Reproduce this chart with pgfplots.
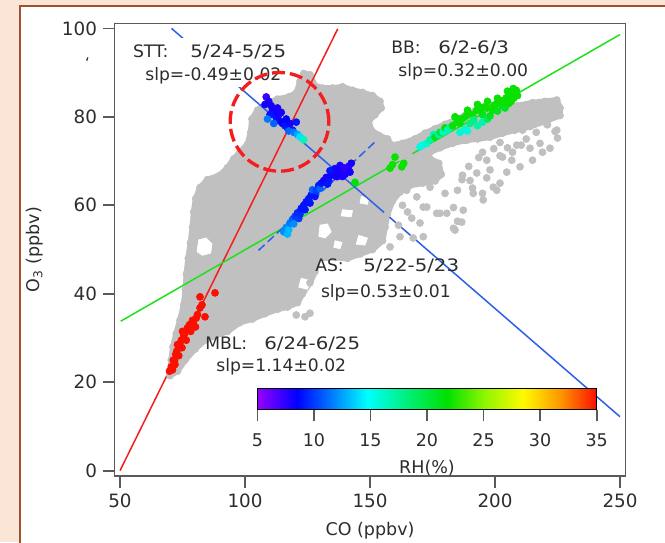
\documentclass[border=0pt]{standalone}
\usepackage{fontspec}
\setmainfont{DejaVu Sans}
\usepackage{pgfplots}
\pgfplotsset{compat=1.18}
\usepackage{pgfplotstable}
\usetikzlibrary{calc}

\definecolor{peach}{RGB}{251,229,214}
\definecolor{brownb}{RGB}{160,82,45}
\definecolor{cloud}{RGB}{192,192,192}
\definecolor{axgray}{RGB}{90,90,90}
\definecolor{txt}{RGB}{45,45,45}
\definecolor{lblue}{RGB}{45,95,235}
\definecolor{lgreen}{RGB}{30,225,30}
\definecolor{lred}{RGB}{245,30,30}
\newcommand{\lbl}{\fontsize{10.3}{12}\selectfont}
\newcommand{\tck}{\fontsize{11}{13}\selectfont}
\newcommand{\dt}[1]{\scalebox{1.15}[1]{#1}}

\pgfplotsset{/pgf/number format/assume math mode=true}

% main dense cloud outline (CO, O3)
\pgfplotstableread{
x y
70 21.5
70.5 25
71.2 28
72.5 31
74 34
75.5 37.5
76.2 41
76.6 44.5
77.3 48
78.2 51.5
79 55
79.5 58.5
80.3 61.5
82 64
85 65.8
90 66.8
93 68.5
95.5 70.5
98 72
101 73.8
102.3 76.5
102.8 79.5
105 81.5
108.5 83
113 84
117.5 84.5
120.7 85.5
122 88
123.5 89.8
126 89.5
128 87
131 86.5
135 86.5
139 86.8
143 86
147 85.5
151 84.8
154 83.5
154.5 82
152 80.5
149.5 79
150.5 77
153.5 75.8
157 75
160 72.5
163 71
166 70
170 70.5
174 70.5
177.5 69.5
178.5 67
176 65.5
171 65
166 64.5
162 63
159 61
157 58
156 55
155 52
151 50
146 49
141 48
136 48.2
129.5 48
128 45
126 42.5
123 40
121 38
117 37
113 36.5
108 35.5
103 34.3
98 33.5
93 31.5
88 30.5
84 29.5
80 27.5
76 25
73 22.5
}\cloudmain

% BB branch of the cloud
\pgfplotstableread{
x y
158 73.5
163 74
168 75
172 76.3
176 77.3
180 78.3
184 79.3
188 80.3
192 81.3
196 82
200 82.5
204 82.5
209 82.5
215 83.2
220 83.5
224.7 83.8
226 82
226 80.3
220 79
214 77.8
208 77
203 76.3
198 75.4
193 75
188 74.7
183 74
178 73
174 72
170 71.3
166 71
162 70.8
158 71.5
}\cloudbb

% sparse outlying points
\pgfplotstableread{
x y
188.7 74.7
195 72
202 74.2
203 70.9
206.7 70.2
208.7 73.6
211 77
214 72.9
218 74
221 78.2
224.7 77
225 75.2
222 72.9
220.7 78.3
224 76.7
210.5 73.6
207 72
202 71.2
196.7 70.2
198 68
196.7 66.2
192.7 67.3
187 66.8
191 63.9
195 62.7
200.7 63.4
204.7 67.5
210 68.7
215 70.2
174 64.1
164.7 63.4
168.7 61.9
171.3 59.6
176.7 58.2
180.7 58.2
187.3 58.9
186.7 56.2
184 54.4
170 56
166.7 57.1
171.3 52.9
167.3 52.6
162 52.9
158 50.6
191.3 62.7
195.3 61.2
199.3 64.1
202 65
190 65.6
185 63.4
186.8 65.8
180 62.7
183.4 59.5
185 56.4
183.4 54.8
178 58.2
172.7 59.6
161.4 55.5
165 58.5
163 60
126 35.6
124 34.8
120.5 35.2
216.5 76.5
219 72
223.5 80
212.5 75
205 73
199.5 72.8
193.5 70.8
189.5 68.8
}\cloudpts

% coloured points: x y RH
\pgfplotstableread{
x y c
108.5 84.5 7
109.5 83.5 8
108 82.8 8
110.5 82.5 8
111 81.5 8
112 80.8 8
110 80.5 9
112.5 79.8 9
113.5 80.5 8
114 79 8
115 78.5 8.5
116 78 9
117 77.5 9
118 78.5 8
119 77 9
120.5 78.8 9
113 82 8
114.5 81 8
116.5 79.5 8.5
109 79.5 11.5
111.5 78.5 11
117.5 76.8 11
119.5 76.5 11.5
121 76 12.5
122 75.5 14
123.5 74.8 16.5
115.5 54 12
116.5 55 12
117.5 54.5 13
117 53.5 13
118 56 11.5
119 56.8 11
119.5 55.8 12
120 57.5 10
121 58.3 9.5
121.5 57 10
122 58 9.5
122.5 59.3 9
123.5 60 9
124 59 9
124.5 60.8 9
125.5 61.5 9
126 60.5 9
126.5 62.3 9
127 63.5 11
128 62 9
128.5 63.3 10
129.5 64.5 9
130 63.8 11
130.5 65 9
131.5 65.6 8
132.5 66.3 8
133 64.8 9
133.5 65.5 9
134.5 66.8 8
135.5 67.5 8
136.5 66.5 8
137 66.5 8
137.5 68 8
138 69 8
138.5 67.5 8
139.5 68.5 7.5
140 67 8
140.5 68 7.5
141.5 68.8 7.5
142 67.5 8
142.5 69.5 8
139 66.5 8
136 68.3 8
134 67.8 9
144 65.2 21.5
158 68.4 22
159 69.2 22
160 70.9 22
162.7 68.7 22
163.5 69.5 22
170 73.2 15.5
171 73.6 15.5
172.7 74 16
174 74.8 17
175.5 76 16.5
176 75.4 21
177.5 76 17
178 76.5 20
179.3 76.6 16
180 77.5 22
181 77 16.5
182 77.6 17
183 78 22
184 80 22
184.7 78.8 21
185.5 79.5 22
186 78.5 22
186 76.5 16
187.3 79.7 22
188 77.2 16
188.5 80.2 22
189 81.5 22
189 76.8 15.5
190 78.5 18
191 80.5 22
191.5 79.3 18
192.7 81.5 22
193 82.8 22
193 78 17
194 81.5 22
195 80.5 21
195 78.8 17
195.5 82.2 22
196.7 82 22
197 83.5 22
197 79.5 19
198 80.2 21
199 81.5 22
199.5 82.6 22
200.7 83 22
201 84.2 22
202 83.5 22
203 82.5 22
203.3 83.7 22
204.5 84.3 22
205 85.8 22
206 85.3 22
206.5 83.5 22
207.3 86.4 22
207.5 84.2 22
208.5 86 22
209 84.8 22
204 82 21
201 81.3 21
205.5 83 22
208 85.5 22
69.8 22.5 35
70.5 23.5 35
71 22.8 35
71.3 25 35
72 24 35
72.3 26.3 35
72.7 27 35
73.5 26 35
73.8 28.3 35
74.5 29.5 35
74.8 27.8 35
75.5 30.5 35
76 31.2 35
76.5 29.5 35
77 32.3 35
77.8 33 35
78.3 31.5 35
79 34 35
79.5 33 35
80.2 32.5 35
81 35.3 35
82 36.8 35
82.8 37.5 35
84 34.8 35
82 39.3 35
88 40.2 35
80.5 34.5 35
75 31.5 35
73 28.5 35
71.8 24.8 35
}\colpts

\begin{document}
\begin{tikzpicture}
\useasboundingbox (0,0) rectangle (399pt,325.2pt);
\fill[peach] (0,0) rectangle (399pt,325.2pt);
\fill[white] (12pt,0) rectangle (399pt,321.6pt);
\draw[brownb, line width=1.2pt] (12pt,-1pt) -- (12pt,321.6pt) -- (400pt,321.6pt);

\begin{axis}[
  at={(68.7pt,39.6pt)}, anchor=south west,
  scale only axis, width=306.6pt, height=271.5pt,
  xmin=47.8, xmax=252.2, ymin=-1.2, ymax=101.1,
  xtick={50,100,150,200,250}, ytick={0,20,40,60,80,100},
  xtick pos=bottom, ytick pos=left,
  tick align=outside, major tick length=7pt,
  axis line style={draw=axgray, line width=1pt},
  tick style={draw=axgray, line width=1pt},
  xticklabel style={font=\tck, text=txt},
  yticklabel style={font=\tck, text=txt},
  xlabel={CO (ppbv)}, ylabel={O\textsubscript{3} (ppbv)},
  xlabel style={font=\fontsize{10.5}{12}\selectfont, text=txt, at={(axis description cs:0.5,0)}, anchor=base, yshift=-35.4pt},
  ylabel style={font=\fontsize{10.5}{12}\selectfont, text=txt, at={(axis description cs:-0.1468,0.5)}, anchor=base},
  colormap={rh}{rgb255(5pt)=(150,0,255); rgb255(8.5pt)=(0,0,255); rgb255(11pt)=(0,100,255); rgb255(14.7pt)=(0,255,255); rgb255(18pt)=(0,240,130); rgb255(21.8pt)=(0,225,0); rgb255(25pt)=(140,245,0); rgb255(28.5pt)=(255,250,0); rgb255(31.8pt)=(255,150,0); rgb255(35pt)=(250,15,0)},
  point meta min=5, point meta max=35,
  colorbar horizontal,
  colorbar style={
    at={($(parent axis.south west)+(85.7pt,48.4pt)$)}, anchor=south west,
    scale only axis, width=203.6pt, height=12.6pt,
    xtick={5,10,15,20,25,30,35},
    xtick pos=bottom, xticklabel pos=lower,
    tick align=outside, major tick length=7pt,
    axis line style={draw=black, line width=0.8pt},
    tick style={draw=axgray, line width=1pt},
    xticklabel style={font=\fontsize{10.5}{12}\selectfont, text=txt, yshift=-4pt},
    xlabel={RH(\%)},
    xlabel style={font=\fontsize{10.5}{12}\selectfont, text=txt, at={(axis description cs:0.5,0)}, anchor=base, yshift=-38.6pt},
  },
]
% gray cloud
\addplot[fill=cloud, draw=cloud, line width=3.5pt, line join=round] table {\cloudmain} -- cycle;
\addplot[fill=cloud, draw=cloud, line width=3.5pt, line join=round] table {\cloudbb} -- cycle;
\addplot[only marks, mark=*, mark size=2.1pt, color=cloud] table {\cloudmain};
\addplot[only marks, mark=*, mark size=2.1pt, color=cloud] table {\cloudbb};
% white gaps inside the cloud
\addplot[fill=white, draw=white] coordinates {(80.8,49.5) (83,48.7) (86.3,49.2) (86.8,51.3) (84.5,52.6) (81.5,52.2)} -- cycle;
\addplot[fill=white, draw=white] coordinates {(129.5,53) (132,52.6) (134.5,54) (133,55.8) (130,55.5)} -- cycle;
\addplot[fill=white, draw=white] coordinates {(138.5,57.6) (142.5,57.4) (143,58.8) (139,59)} -- cycle;
\addplot[fill=white, draw=white] coordinates {(121.5,41.5) (125,41) (126,43) (122.5,43.5)} -- cycle;
\addplot[fill=white, draw=white] coordinates {(144.5,51.2) (148,51) (149,52.6) (145.5,53.2)} -- cycle;
\addplot[fill=white, draw=white] coordinates {(135.5,50.5) (138,50.2) (138.8,51.6) (136,52)} -- cycle;
\addplot[fill=white, draw=white] coordinates {(146,60.5) (149,60.2) (149.5,61.6) (146.5,62)} -- cycle;
\addplot[only marks, mark=*, mark size=2.1pt, color=cloud] table {\cloudpts};
% coloured points
\addplot[scatter, only marks, mark=*, mark size=2.1pt,
  scatter/use mapped color={draw=mapped color, fill=mapped color},
  point meta=explicit] table[meta=c] {\colpts};
% fit lines
\addplot[lred, line width=0.9pt] coordinates {(50,0) (137.1,99.9)};
\addplot[lgreen, line width=0.9pt] coordinates {(50.3,33.8) (250,98.6)};
\addplot[lblue, line width=0.9pt] coordinates {(70.6,100) (250,12.2)};
\addplot[lblue, line width=0.9pt, dash pattern=on 5pt off 2.5pt] coordinates {(105.4,49.8) (152.9,74.8)};
\end{axis}

% annotations
\node[anchor=base, inner sep=0pt, font=\fontsize{9}{10}\selectfont, text=txt] at (52.5pt,284pt) {\symbol{"60}};
\fill[white] (76.8pt,273pt) rectangle (176.4pt,302.4pt);
\begin{scope}[every node/.style={anchor=base west, inner sep=0pt, font=\lbl, text=txt}]
\node at (79.6pt,290.8pt) {STT:};
\node at (114pt,290.8pt) {\dt{5/24-5/25}};
\node at (87pt,277.2pt) {slp=-0.49±0.02};
\node at (234.6pt,293pt) {BB:};
\node at (262.8pt,293pt) {\dt{6/2-6/3}};
\node at (238.8pt,279.2pt) {slp=0.32±0.00};
\node at (189pt,162.2pt) {AS:};
\node at (217.8pt,162.2pt) {\dt{5/22-5/23}};
\node at (192.4pt,146.8pt) {slp=0.53±0.01};
\node at (123pt,115.6pt) {MBL:};
\node at (158.4pt,115.6pt) {\dt{6/24-6/25}};
\node at (129.6pt,102.2pt) {slp=1.14±0.02};
\end{scope}
\draw[lred, line width=2pt, dash pattern=on 7.8pt off 3pt] (167.7pt,252.1pt) circle[radius=29.6pt];
\end{tikzpicture}
\end{document}
